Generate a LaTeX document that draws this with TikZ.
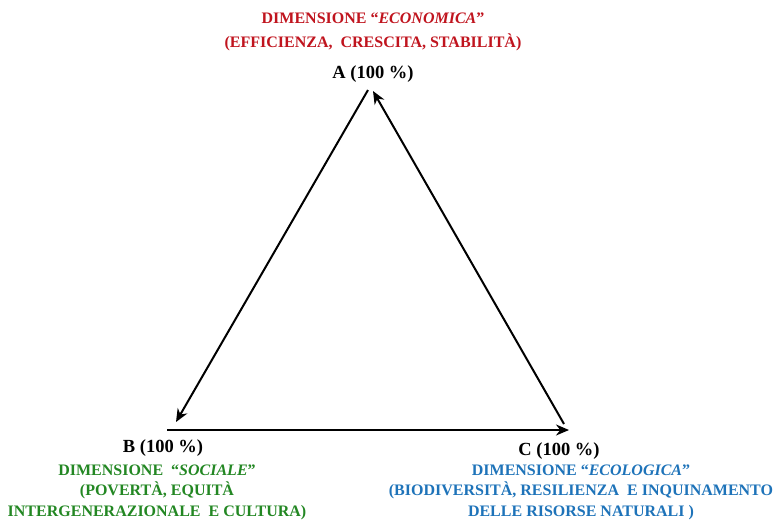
\documentclass[tikz,border=0pt]{standalone}
\usepackage{fontspec}
\setmainfont{Liberation Serif}
\usetikzlibrary{arrows.meta}
\definecolor{ecored}{RGB}{192,20,30}
\definecolor{socgreen}{RGB}{35,135,35}
\definecolor{ecoblue}{RGB}{30,115,185}
\begin{document}
\begin{tikzpicture}[x=1pt,y=-1pt,
  vlabel/.style={font=\bfseries\fontsize{18.5}{22}\selectfont, inner sep=0pt},
  dimtext/.style={font=\bfseries\fontsize{16}{20.5}\selectfont, align=center, inner sep=0pt},
  conn/.style={line width=2pt, -{Stealth[length=13pt,width=11pt]}}]
\useasboundingbox (0,0) rectangle (773,520);
% corners
\coordinate (Atop1) at (368,90);
\coordinate (Atop2) at (373,91);
\coordinate (Bend) at (176,422);
\coordinate (Bstart) at (167,430);
\coordinate (Cend) at (569,430);
\coordinate (Cstart) at (564,424);
\draw[conn] (Atop1) -- (Bend);
\draw[conn] (Bstart) -- (Cend);
\draw[conn] (Cstart) -- (Atop2);
% vertex labels
\node[vlabel] (A) at (373,74) {A (100 \%)};
\node[vlabel] (B) at (163,448) {B (100 \%)};
\node[vlabel] (C) at (559,451) {C (100 \%)};
% dimension texts
\node[dimtext, text=ecored, font=\bfseries\fontsize{16}{24}\selectfont] (econ) at (373,32) {DIMENSIONE “\textit{ECONOMICA}”\\(EFFICIENZA,\ \ CRESCITA, STABILITÀ)};
\node[dimtext, text=socgreen] (soc) at (157,492) {DIMENSIONE\ \ “\textit{SOCIALE}”\\(POVERTÀ, EQUITÀ\\INTERGENERAZIONALE\ \ E CULTURA)};
\node[dimtext, text=ecoblue] (ecol) at (581,492) {DIMENSIONE “\textit{ECOLOGICA}”\\(BIODIVERSITÀ, RESILIENZA\ \ E INQUINAMENTO\\DELLE RISORSE NATURALI )};
\end{tikzpicture}
\end{document}
